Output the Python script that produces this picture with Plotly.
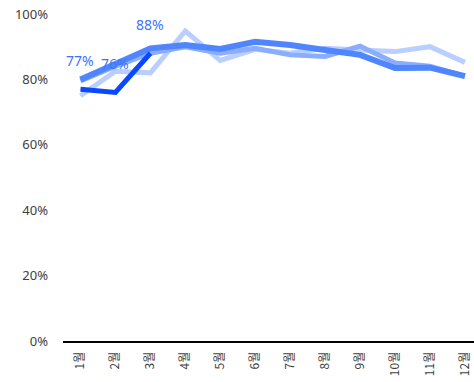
import plotly.graph_objects as go

months = ["1월", "2월", "3월", "4월", "5월", "6월", "7월", "8월", "9월", "10월", "11월", "12월"]

series_light = [75.0, 82.5, 82.0, 94.8, 85.8, 89.2, 88.0, 89.5, 89.0, 88.5, 90.0, 85.2]
series_medium = [79.5, 84.0, 88.0, 90.0, 88.0, 89.5, 87.5, 87.0, 90.2, 85.0, 84.0, 81.0]
series_main = [80.0, 85.0, 89.5, 90.5, 89.3, 91.5, 90.5, 89.0, 87.5, 83.5, 83.6, 81.0]
series_current = [77, 76, 88]

y_ticks = [0, 20, 40, 60, 80, 100]
y_tick_text = [f"{v}%" for v in y_ticks]

fig = go.Figure()

fig.add_trace(go.Scatter(x=months, y=series_light, mode="lines",
                         line=dict(color="#b8cfff", width=5), showlegend=False))
fig.add_trace(go.Scatter(x=months, y=series_medium, mode="lines",
                         line=dict(color="#8aadff", width=5), showlegend=False))
fig.add_trace(go.Scatter(x=months, y=series_main, mode="lines",
                         line=dict(color="#4f86ff", width=6), showlegend=False))
fig.add_trace(go.Scatter(x=months[:len(series_current)], y=series_current, mode="lines",
                         line=dict(color="#0a47ff", width=5), showlegend=False))

# value labels above the current-year points
for m, v in zip(months, series_current):
    fig.add_annotation(x=m, y=v, text=f"{v}%", showarrow=False, yshift=29,
                       font=dict(size=14, color="#3d72ff",
                                 family="Noto Sans, sans-serif"))

fig.update_layout(
    width=474, height=382,
    margin=dict(l=63, r=0, t=14, b=41),
    plot_bgcolor="white", paper_bgcolor="white",
    font=dict(family="Noto Sans, sans-serif", color="#404040"),
)
fig.update_xaxes(
    type="category", range=[-0.5, 11.26],
    showline=True, linecolor="black", linewidth=2,
    showgrid=False, zeroline=False, ticks="",
    tickangle=-90, ticklabelstandoff=4,
    tickfont=dict(size=12, family="Noto Sans CJK KR, sans-serif", color="#404040"),
)
fig.update_yaxes(
    range=[0, 100], tickvals=y_ticks, ticktext=y_tick_text,
    showline=False, showgrid=False, zeroline=False, ticks="",
    ticklabelstandoff=14,
    tickfont=dict(size=13, color="#404040"),
)

fig.write_html("out.html")
